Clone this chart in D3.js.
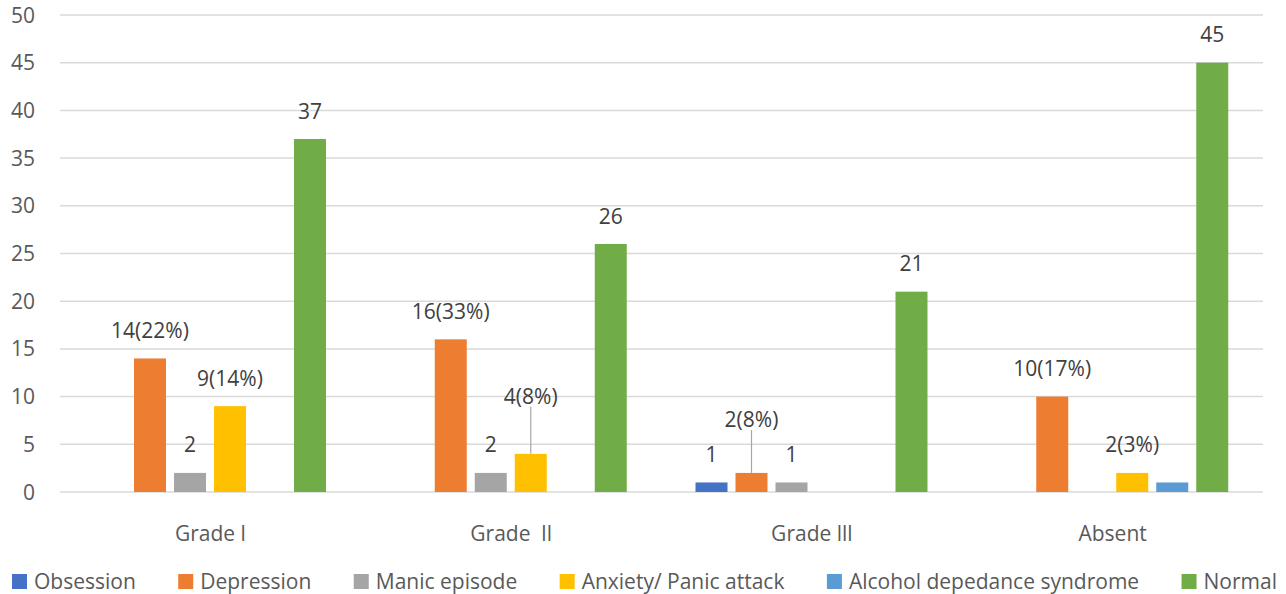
<!DOCTYPE html>
<html>
<head>
<meta charset="utf-8">
<style>
  body { margin: 0; background: #fff; }
  text { font-family: "Open Sans", "Noto Sans", sans-serif; white-space: pre; }
</style>
<title>Grades chart</title>
</head>
<body>
<script src="https://cdn.jsdelivr.net/npm/d3@7"></script>
<script>

// data
var categories = ["Grade l", "Grade  ll", "Grade lll", "Absent"];
var seriesNames = ["Obsession", "Depression", "Manic episode", "Anxiety/ Panic attack", "Alcohol depedance syndrome", "Normal"];
var obsession  = [0, 0, 1, 0];
var depression = [14, 16, 2, 10];
var manic      = [2, 2, 1, 0];
var anxiety    = [9, 4, 0, 2];
var alcohol    = [0, 0, 0, 1];
var normal     = [37, 26, 21, 45];
// data labels as printed
var obsessionLabels  = ["", "", "1", ""];
var depressionLabels = ["14(22%)", "16(33%)", "2(8%)", "10(17%)"];
var manicLabels      = ["2", "2", "1", ""];
var anxietyLabels    = ["9(14%)", "4(8%)", "", "2(3%)"];
var alcoholLabels    = ["", "", "", ""];
var normalLabels     = ["37", "26", "21", "45"];
var yTicks = [0, 5, 10, 15, 20, 25, 30, 35, 40, 45, 50];

var values = [obsession, depression, manic, anxiety, alcohol, normal];
var labels = [obsessionLabels, depressionLabels, manicLabels, anxietyLabels, alcoholLabels, normalLabels];
var colors = ["#4472C4", "#ED7D31", "#A5A5A5", "#FFC000", "#5B9BD5", "#70AD47"];

// labels that were dragged up with a leader line (series index, category index, extra lift)
var leaders = [[3, 1, 29], [1, 2, 25]];

var W = 1286, H = 594;
var svg = d3.select("body").append("svg").attr("width", W).attr("height", H);

var x0 = d3.scaleBand().domain(categories).range([60, 1263]);
var x1 = d3.scaleBand().domain(seriesNames).range([30, 270]).paddingInner(0.2).paddingOuter(0.1);
var y = d3.scaleLinear().domain([0, 50]).range([492, 15]);

// gridlines
svg.append("g").selectAll("line").data(yTicks).enter().append("line")
    .attr("x1", 60).attr("x2", 1263)
    .attr("y1", d => y(d)).attr("y2", d => y(d))
    .style("stroke", "#D9D9D9").style("stroke-width", 1.5);

// y tick labels
svg.append("g").selectAll("text").data(yTicks).enter().append("text")
    .attr("x", 35).attr("y", d => y(d)).attr("dy", "0.36em")
    .attr("text-anchor", "end")
    .style("font-size", "21px").style("fill", "#595959")
    .text(d => d);

// flatten into bar records
var bars = [];
seriesNames.forEach(function(s, si) {
  categories.forEach(function(c, ci) {
    bars.push({s: s, si: si, c: c, ci: ci, v: values[si][ci], label: labels[si][ci]});
  });
});

svg.append("g").selectAll("rect").data(bars.filter(b => b.v > 0)).enter().append("rect")
    .attr("x", d => x0(d.c) + x1(d.s))
    .attr("width", x1.bandwidth())
    .attr("y", d => y(d.v))
    .attr("height", d => y(0) - y(d.v))
    .style("fill", d => colors[d.si]);

// data labels
var lab = svg.append("g");
bars.filter(b => b.label !== "").forEach(function(d) {
  var cx = x0(d.c) + x1(d.s) + x1.bandwidth() / 2;
  var lift = 0;
  leaders.forEach(function(l) { if (l[0] === d.si && l[1] === d.ci) lift = l[2]; });
  var mid = y(d.v) - 28 - lift;
  if (lift > 0) {
    lab.append("line")
      .attr("x1", cx).attr("x2", cx)
      .attr("y1", mid + 10).attr("y2", y(d.v))
      .style("stroke", "#A6A6A6").style("stroke-width", 1.2);
  }
  lab.append("text")
    .attr("x", cx).attr("y", mid).attr("dy", "0.36em")
    .attr("text-anchor", "middle")
    .style("font-size", "21px").style("fill", "#404040")
    .text(d.label);
});

// category labels
svg.append("g").selectAll("text").data(categories).enter().append("text")
    .attr("x", d => x0(d) + x0.bandwidth() / 2).attr("y", 533).attr("dy", "0.36em")
    .attr("text-anchor", "middle")
    .style("font-size", "21px").style("fill", "#595959")
    .text(d => d);

// legend, spread between the two ends seen in the picture
var leg = svg.append("g");
var items = seriesNames.map(function(s, i) {
  var t = leg.append("text").attr("y", 581).attr("dy", "0.36em")
      .style("font-size", "21px").style("fill", "#595959").text(s);
  return {t: t, w: t.node().getComputedTextLength(), i: i};
});
var sq = 15, sqGap = 7, left = 12, right = 1277;
var used = d3.sum(items, d => sq + sqGap + d.w);
var gap = (right - left - used) / (items.length - 1);
var cur = left;
items.forEach(function(d) {
  leg.append("rect").attr("x", cur).attr("y", 574).attr("width", sq).attr("height", sq)
    .style("fill", colors[d.i]);
  d.t.attr("x", cur + sq + sqGap);
  cur += sq + sqGap + d.w + gap;
});

</script>
</body>
</html>
